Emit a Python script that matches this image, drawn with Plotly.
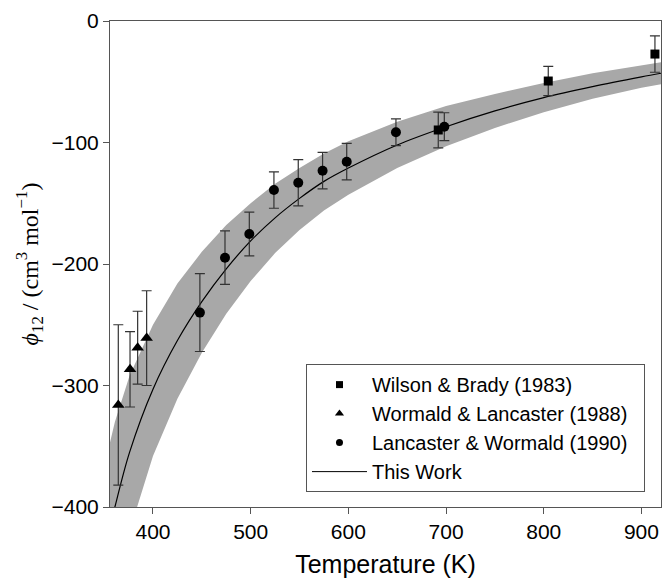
import plotly.graph_objects as go

# --- data ---
wb_T = [692.0, 804.6, 913.8]
wb_phi = [-89.7, -49.4, -27.2]
wb_err = [14.7, 12.0, 15.0]

wl_T = [364.5, 376.5, 384.3, 393.5]
wl_phi = [-316.0, -286.7, -268.9, -261.0]
wl_err = [66.0, 31.0, 30.0, 39.0]

lw_T = [448.0, 473.7, 498.6, 523.8, 548.7, 573.6, 598.3, 648.7, 698.2]
lw_phi = [-240.0, -194.8, -175.3, -139.1, -133.1, -123.2, -115.8, -91.6, -87.0]
lw_err = [32.0, 22.0, 18.0, 15.0, 19.0, 15.0, 15.0, 11.0, 11.5]

fit_T = [356, 361, 376, 400, 425, 450, 475, 500, 525, 550, 575, 600, 650, 700, 750, 800, 850, 900, 920]
fit_phi = [-416, -400, -355, -303, -263, -231, -204, -181, -162, -146, -132, -121, -102, -87, -74, -63, -54, -46, -43]
band_upper = [-347, -330, -292, -250, -216, -190, -168, -150, -134, -121, -109, -99, -83, -70, -60, -51, -43, -36.5, -34]
band_lower = [-490, -472, -420, -358, -311, -273, -241, -214, -191, -172, -156, -143, -121, -103, -88, -75, -64, -55, -52]

x_ticks = [400, 500, 600, 700, 800, 900]
y_ticks = [0, -100, -200, -300, -400]

BAND = "#a8a8a8"
ERRC = "#333333"

fig = go.Figure()

# uncertainty band
fig.add_trace(go.Scatter(
    x=fit_T + fit_T[::-1], y=band_upper + band_lower[::-1],
    fill="toself", fillcolor=BAND, line=dict(width=0, color=BAND),
    mode="lines", showlegend=False, hoverinfo="skip"))

# fitted curve
fig.add_trace(go.Scatter(
    x=fit_T, y=fit_phi, mode="lines", line=dict(color="black", width=1.2, shape="spline"),
    showlegend=False))

def err(vals):
    return dict(type="data", array=vals, visible=True, color=ERRC, thickness=1.2, width=5)

fig.add_trace(go.Scatter(x=wb_T, y=wb_phi, mode="markers", error_y=err(wb_err),
                         marker=dict(symbol="square", size=9, color="black"), showlegend=False))
fig.add_trace(go.Scatter(x=wl_T, y=wl_phi, mode="markers", error_y=err(wl_err),
                         marker=dict(symbol="triangle-up", size=11, color="black"), showlegend=False))
fig.add_trace(go.Scatter(x=lw_T, y=lw_phi, mode="markers", error_y=err(lw_err),
                         marker=dict(symbol="circle", size=10, color="black"), showlegend=False))

# legend entries
fig.add_trace(go.Scatter(x=[None], y=[None], mode="markers", name="Wilson & Brady (1983)",
                         marker=dict(symbol="square", size=7, color="black")))
fig.add_trace(go.Scatter(x=[None], y=[None], mode="markers", name="Wormald & Lancaster (1988)\u00a0\u00a0",
                         marker=dict(symbol="triangle-up", size=8, color="black")))
fig.add_trace(go.Scatter(x=[None], y=[None], mode="markers", name="Lancaster & Wormald (1990)",
                         marker=dict(symbol="circle", size=7, color="black")))
fig.add_trace(go.Scatter(x=[None], y=[None], mode="lines", name="This Work",
                         line=dict(color="black", width=1)))

axis_common = dict(showline=True, linecolor="#555555", linewidth=1, mirror=True,
                   ticks="outside", ticklen=6, tickcolor="#555555", tickwidth=1,
                   showgrid=False, zeroline=False,
                   tickfont=dict(family="Liberation Sans, Arial", size=21, color="black"))

fig.update_layout(
    width=662, height=585,
    margin=dict(l=110, r=1, t=21, b=78, autoexpand=False),
    paper_bgcolor="white", plot_bgcolor="white",
    xaxis=dict(range=[356, 920], tickvals=x_ticks, automargin=False, **axis_common,
               title=dict(text="Temperature (K)", standoff=13,
                          font=dict(family="Liberation Sans, Arial", size=25, color="black"))),
    yaxis=dict(range=[-400, 0], tickvals=y_ticks, automargin=False, **axis_common,
               title=dict(text="<i>ϕ</i><sub>12</sub> / (cm<sup>3</sup> mol<sup>−1</sup>)", standoff=6,
                          font=dict(family="Liberation Serif, Times New Roman", size=24, color="black"))),
    legend=dict(x=0.3557, y=0.294, xanchor="left", yanchor="top",
                bgcolor="white", bordercolor="#555555", borderwidth=1,
                font=dict(family="Liberation Sans, Arial", size=20, color="black"),
                tracegroupgap=0, itemwidth=55),
    showlegend=True,
)

fig.write_html("out.html", config={"displayModeBar": False},
               post_script="document.body.style.margin='0';document.body.style.overflow='hidden';")
